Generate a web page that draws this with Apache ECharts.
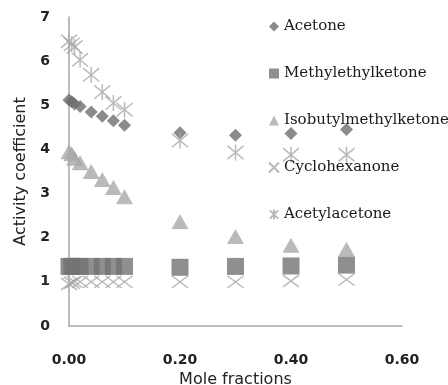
<!DOCTYPE html>
<html>
<head>
<meta charset="utf-8">
<script src="https://cdn.jsdelivr.net/npm/echarts@6/dist/echarts.min.js"></script>
<style>
  html, body { margin: 0; padding: 0; background: #fff; }
  #main { width: 448px; height: 385px; }
</style>
</head>
<body>
<div id="main"></div>
<script>
// mole fractions
const xLow = [0, 0.005, 0.01, 0.02, 0.04, 0.06, 0.08, 0.1]
const xHigh = [0.2, 0.3, 0.4, 0.5]
const xValues = xLow.concat(xHigh)

// activity coefficients
const acetone = [5.12, 5.08, 5.03, 4.97, 4.85, 4.75, 4.65, 4.55, 4.38, 4.32, 4.36, 4.45]
const methylethylketone = [1.35, 1.35, 1.35, 1.35, 1.35, 1.35, 1.35, 1.35, 1.33, 1.35, 1.36, 1.38]
const isobutylmethylketone = [3.95, 3.9, 3.8, 3.7, 3.5, 3.32, 3.14, 2.93, 2.37, 2.03, 1.83, 1.74]
const cyclohexanone = [0.95, 0.98, 1.0, 1.0, 1.0, 1.0, 1.0, 1.0, 1.0, 1.0, 1.02, 1.05]
const acetylacetone = [6.45, 6.38, 6.32, 6.03, 5.69, 5.3, 5.05, 4.9, 4.2, 3.93, 3.88, 3.88]

const seriesNames = ['Acetone', 'Methylethylketone', 'Isobutylmethylketone', 'Cyclohexanone', 'Acetylacetone']

const toPoints = (ys) => ys.map((y, i) => [xValues[i], y])

const crossPath = 'path://M0,0L10,10M10,0L0,10'
const starPath = 'path://M0,0L10,10M10,0L0,10M5,-1L5,11'

const chart = echarts.init(document.getElementById('main'))
const option = {
    animation: false,
    grid: {
        left: 69,
        right: 46,
        top: 17,
        bottom: 59,
        outerBoundsMode: 'none',
    },
    legend: {
        orient: 'vertical',
        left: 263,
        top: 14,
        itemWidth: 10,
        itemHeight: 10,
        itemGap: 32,
        data: seriesNames,
        textStyle: {
            fontFamily: 'DejaVu Serif',
            fontSize: 15,
            lineHeight: 15,
            color: '#1a1a1a',
        },
    },
    xAxis: {
        type: 'value',
        min: 0,
        max: 0.6,
        interval: 0.2,
        name: 'Mole fractions',
        nameLocation: 'middle',
        nameGap: 43,
        nameTextStyle: {
            fontFamily: 'DejaVu Sans',
            fontSize: 16,
            color: '#222',
        },
        axisLine: { lineStyle: { color: '#a6a6a6', width: 1.5 } },
        axisTick: { show: false },
        splitLine: { show: false },
        axisLabel: {
            margin: 27,
            fontFamily: 'DejaVu Sans',
            fontWeight: 'bold',
            fontSize: 14,
            color: '#222',
            formatter: (v) => v.toFixed(2),
        },
    },
    yAxis: {
        type: 'value',
        min: 0,
        max: 7,
        interval: 1,
        name: 'Activity coefficient',
        nameLocation: 'middle',
        nameGap: 40,
        nameTextStyle: {
            fontFamily: 'DejaVu Sans',
            fontSize: 16,
            color: '#222',
        },
        axisLine: { show: true, lineStyle: { color: '#a6a6a6', width: 1.5 } },
        axisTick: { show: false },
        splitLine: { show: false },
        axisLabel: {
            margin: 19,
            fontFamily: 'DejaVu Sans',
            fontWeight: 'bold',
            fontSize: 14,
            color: '#222',
        },
    },
    series: [
        {
            name: seriesNames[0],
            type: 'scatter',
            symbol: 'diamond',
            symbolSize: 13,
            itemStyle: { color: '#6e6e6e' },
            data: toPoints(acetone),
        },
        {
            name: seriesNames[1],
            type: 'scatter',
            symbol: 'rect',
            symbolSize: [17, 17],
            itemStyle: { color: '#737373' },
            data: toPoints(methylethylketone),
        },
        {
            name: seriesNames[2],
            type: 'scatter',
            symbol: 'triangle',
            symbolSize: [17, 15],
            itemStyle: { color: '#a9a9a9' },
            data: toPoints(isobutylmethylketone),
        },
        {
            name: seriesNames[3],
            type: 'scatter',
            symbol: crossPath,
            symbolSize: [16, 12],
            itemStyle: { color: 'rgba(0,0,0,0)', borderColor: '#a6a6a6', borderWidth: 1.5 },
            data: toPoints(cyclohexanone),
        },
        {
            name: seriesNames[4],
            type: 'scatter',
            symbol: starPath,
            symbolSize: 16,
            itemStyle: { color: 'rgba(0,0,0,0)', borderColor: '#a9a9a9', borderWidth: 1.5 },
            data: toPoints(acetylacetone),
        },
    ],
}
option && chart.setOption(option)
</script>
</body>
</html>
